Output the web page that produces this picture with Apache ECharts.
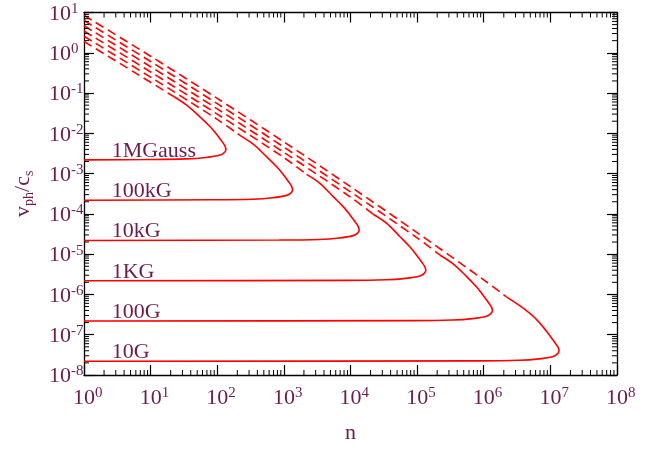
<!DOCTYPE html>
<html><head><meta charset="utf-8">
<script src="https://cdn.jsdelivr.net/npm/echarts@6/dist/echarts.min.js"></script>
<style>html,body{margin:0;padding:0;background:#fff}#c{width:649px;height:449px}</style>
</head><body><div id="c"></div>
<script>
// ---- data ----
const fieldLabels = ['1MGauss', '100kG', '10kG', '1KG', '100G', '10G'];

// upper branches, dashed part: [n, v_ph/c_s]
const dash1MG   = [[1, 1.905], [5.888, 0.3170], [21.88, 0.08318]];
const dash100kG = [[1, 2.570], [10, 0.2477], [100, 0.02223], [218.8, 8.913e-3]];
const dash10kG  = [[1, 3.467], [10, 0.3342], [100, 0.02999], [1000, 2.500e-3], [2188, 9.550e-4]];
const dash1KG   = [[1, 4.677], [10, 0.4508], [100, 0.04046], [1000, 3.373e-3], [10000, 2.612e-4], [21880, 9.772e-5]];
const dash100G  = [[1, 6.310], [10, 0.6081], [100, 0.05458], [1000, 4.550e-3], [1e4, 3.524e-4], [1e5, 2.541e-5], [218800, 9.550e-6]];
const dash10G   = [[1, 8.511], [10, 0.8204], [100, 0.07362], [1000, 6.138e-3], [1e4, 4.753e-4], [1e5, 3.428e-5], [1e6, 2.296e-6], [2188000, 8.710e-7]];

// solid part: upper branch -> turning point -> lower branch back to n = 1
const solid1MG   = [[21.88, 0.08318], [34.67, 0.05012], [54.95, 0.02570], [77.62, 0.01479], [97.72, 9.550e-3], [117.5, 6.310e-3], [130.3, 4.898e-3], [134.9, 3.981e-3], [128.8, 3.388e-3], [109.6, 2.884e-3], [67.61, 2.512e-3], [33.88, 2.317e-3], [8.511, 2.239e-3], [1, 2.188e-3]];
const solid100kG = [[218.8, 8.913e-3], [346.7, 5.370e-3], [549.5, 2.630e-3], [776.2, 1.496e-3], [977.2, 9.550e-4], [1175, 6.310e-4], [1303, 4.898e-4], [1349, 3.981e-4], [1288, 3.388e-4], [1096, 2.884e-4], [676.1, 2.512e-4], [338.8, 2.317e-4], [85.11, 2.239e-4], [1, 2.188e-4]];
const solid10kG  = [[2188, 9.550e-4], [3467, 5.754e-4], [5495, 2.692e-4], [7762, 1.514e-4], [9772, 9.550e-5], [11750, 6.310e-5], [13030, 4.898e-5], [13490, 3.981e-5], [12880, 3.388e-5], [10960, 2.884e-5], [6761, 2.512e-5], [3388, 2.317e-5], [851.1, 2.239e-5], [1, 2.188e-5]];
const solid1KG   = [[21880, 9.772e-5], [34670, 5.888e-5], [54950, 2.754e-5], [77620, 1.531e-5], [97720, 9.550e-6], [117500, 6.310e-6], [130300, 4.898e-6], [134900, 3.981e-6], [128800, 3.388e-6], [109600, 2.884e-6], [67610, 2.512e-6], [33880, 2.317e-6], [8511, 2.239e-6], [1, 2.188e-6]];
const solid100G  = [[218800, 9.550e-6], [346700, 5.754e-6], [549500, 2.818e-6], [776200, 1.549e-6], [977200, 9.550e-7], [1175000, 6.310e-7], [1303000, 4.898e-7], [1349000, 3.981e-7], [1288000, 3.388e-7], [1096000, 2.884e-7], [676100, 2.512e-7], [338800, 2.317e-7], [85110, 2.239e-7], [1, 2.188e-7]];
const solid10G   = [[2188000, 8.710e-7], [3467000, 5.248e-7], [5495000, 2.884e-7], [7762000, 1.567e-7], [9772000, 9.550e-8], [11750000, 6.310e-8], [13030000, 4.898e-8], [13490000, 3.981e-8], [12880000, 3.388e-8], [10960000, 2.884e-8], [6761000, 2.512e-8], [3388000, 2.317e-8], [851100, 2.239e-8], [1, 2.188e-8]];

// label anchor: n where the label text starts, v of the flat branch
const labelN = 2.6;
const labelV = [2.188e-3, 2.188e-4, 2.188e-5, 2.188e-6, 2.188e-7, 2.188e-8];

const xTickExp = [0, 1, 2, 3, 4, 5, 6, 7, 8];
const yTickExp = [-8, -7, -6, -5, -4, -3, -2, -1, 0, 1];

// ---- rendering ----
const dashSets = [dash1MG, dash100kG, dash10kG, dash1KG, dash100G, dash10G];
const solidSets = [solid1MG, solid100kG, solid10kG, solid1KG, solid100G, solid10G];

const TXT = '#6b1d4f';
const RED = '#ff0000';
const FONT = "'Liberation Serif', 'DejaVu Serif', serif";

const minorX = [];
for (let e = 0; e < 8; e++) for (let m = 2; m <= 9; m++) minorX.push([m * Math.pow(10, e), 1e-8]);
const minorY = [];
for (let e = -8; e < 1; e++) for (let m = 2; m <= 9; m++) minorY.push([1, m * Math.pow(10, e)]);

function expOf(v) { return Math.round(Math.log10(v)); }

const richTick = {
  b: { fontSize: 22, fontFamily: FONT, color: TXT, lineHeight: 22, padding: [3, 0, 0, 0] },
  s: { fontSize: 15, fontFamily: FONT, color: TXT, lineHeight: 15, verticalAlign: 'top' },
  h: { fontSize: 15, fontFamily: FONT, color: 'rgba(0,0,0,0)', lineHeight: 15, verticalAlign: 'top' }
};

const series = [];
dashSets.forEach((d, i) => series.push({
  type: 'line', name: fieldLabels[i] + ' upper', data: d, showSymbol: false, symbol: 'none', smooth: 0.3,
  lineStyle: { color: RED, width: 1.6, type: [9, 5] }, silent: true, z: 3
}));
solidSets.forEach((d, i) => series.push({
  type: 'line', name: fieldLabels[i], data: d, showSymbol: false, symbol: 'none', smooth: 0.35,
  lineStyle: { color: RED, width: 1.6 }, silent: true, z: 3
}));
series.push({
  type: 'custom', data: minorX, silent: true, z: 5,
  renderItem: (params, api) => {
    const cs = params.coordSys; const x = api.coord([api.value(0), 1e-8])[0];
    return { type: 'group', children: [
      { type: 'line', shape: { x1: x, y1: cs.y + cs.height, x2: x, y2: cs.y + cs.height - 5 }, style: { stroke: '#000', lineWidth: 1 } },
      { type: 'line', shape: { x1: x, y1: cs.y, x2: x, y2: cs.y + 5 }, style: { stroke: '#000', lineWidth: 1 } }
    ] };
  }
});
series.push({
  type: 'custom', data: minorY, silent: true, z: 5,
  renderItem: (params, api) => {
    const cs = params.coordSys; const y = api.coord([1, api.value(1)])[1];
    return { type: 'group', children: [
      { type: 'line', shape: { x1: cs.x, y1: y, x2: cs.x + 5, y2: y }, style: { stroke: '#000', lineWidth: 1 } },
      { type: 'line', shape: { x1: cs.x + cs.width, y1: y, x2: cs.x + cs.width - 5, y2: y }, style: { stroke: '#000', lineWidth: 1 } }
    ] };
  }
});

const axLine = { show: true, lineStyle: { color: '#000', width: 1.3 } };
const axTick = { show: true, inside: true, length: 10, lineStyle: { color: '#000', width: 1.2 } };

const chart = echarts.init(document.getElementById('c'), null, { renderer: 'canvas' });
chart.setOption({
  animation: false,
  backgroundColor: '#fff',
  grid: { left: 84, right: 32, top: 11, bottom: 65 },
  xAxis: [{
    type: 'log', logBase: 10, min: 1, max: 1e8, position: 'bottom',
    axisLine: axLine, axisTick: axTick, splitLine: { show: false },
    axisLabel: { margin: 11, rich: richTick,
      formatter: v => { const e = expOf(v); return xTickExp.includes(e) ? '{h|' + e + '}{b|10}{s|' + e + '}' : ''; } },
    name: 'n', nameLocation: 'middle', nameGap: 47,
    nameTextStyle: { fontSize: 22, fontFamily: FONT, color: TXT }
  }, {
    type: 'log', logBase: 10, min: 1, max: 1e8, position: 'top',
    axisLine: axLine, axisTick: axTick, axisLabel: { show: false }, splitLine: { show: false }
  }],
  yAxis: [{
    type: 'log', logBase: 10, min: 1e-8, max: 10, position: 'left',
    axisLine: axLine, axisTick: axTick, splitLine: { show: false },
    axisLabel: { align: 'left', margin: 35, rich: richTick,
      formatter: v => { const e = expOf(v); return yTickExp.includes(e) ? '{b|10}{s|' + e + '}' : ''; } },
    name: '{v|v}{sub|ph}{v|/c}{sub|s}', nameLocation: 'middle', nameGap: 48, nameRotate: 90,
    nameTextStyle: { rich: {
      v: { fontSize: 22, fontFamily: FONT, color: TXT, lineHeight: 24, verticalAlign: 'top' },
      sub: { fontSize: 14, fontFamily: FONT, color: TXT, lineHeight: 14, verticalAlign: 'bottom', padding: [8, 0, 0, 0] }
    } }
  }, {
    type: 'log', logBase: 10, min: 1e-8, max: 10, position: 'right',
    axisLine: axLine, axisTick: axTick, axisLabel: { show: false }, splitLine: { show: false }
  }],
  series: series
});

const graphics = fieldLabels.map((t, i) => {
  const p = chart.convertToPixel({ xAxisIndex: 0, yAxisIndex: 0 }, [labelN, labelV[i]]);
  return { type: 'text', x: p[0], y: p[1] + 2, silent: true,
    style: { text: t, fill: TXT, font: '22px ' + FONT, textAlign: 'left', textVerticalAlign: 'bottom' } };
});
chart.setOption({ graphic: graphics });
</script>
</body></html>
